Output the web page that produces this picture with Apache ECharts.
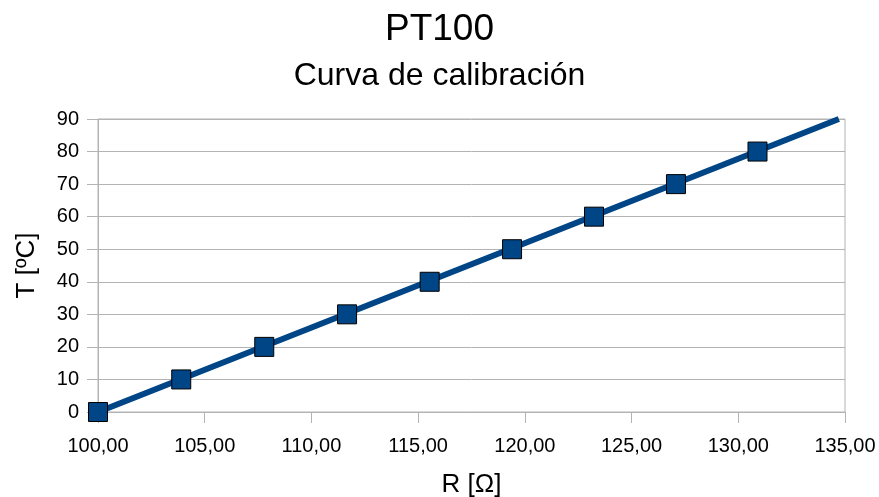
<!DOCTYPE html>
<html><head><meta charset="utf-8">
<script src="https://cdn.jsdelivr.net/npm/echarts@6/dist/echarts.min.js"></script>
<style>html,body{margin:0;padding:0;background:#fff}#c{width:879px;height:497px}</style>
</head><body><div id="c"></div>
<script>
const resistance = [100.00, 103.90, 107.79, 111.67, 115.54, 119.40, 123.24, 127.08, 130.90];
const temperature = [0, 10, 20, 30, 40, 50, 60, 70, 80];
const trendX = [100.00, 134.71];
const trendY = [0, 90];
const font = 'Liberation Sans, Arial, sans-serif';
const chart = echarts.init(document.getElementById('c'));
const fmt = v => v.toFixed(2).replace('.', ',');
chart.setOption({
  animation: false,
  title: {
    text: 'PT100', subtext: 'Curva de calibración', left: 'center', top: 6, itemGap: 12,
    textStyle: {fontFamily: font, fontSize: 37, fontWeight: 'normal', color: '#000'},
    subtextStyle: {fontFamily: font, fontSize: 32, color: '#000'}
  },
  grid: {left: 98, right: 34, top: 119, bottom: 85, show: true, borderColor: '#b3b3b3', borderWidth: 1,
         containLabel: false, outerBoundsMode: 'none'},
  xAxis: {
    type: 'value', min: 100, max: 135, interval: 5,
    name: 'R [Ω]', nameLocation: 'middle', nameGap: 60,
    nameTextStyle: {fontFamily: font, fontSize: 26, color: '#000'},
    axisLine: {show: true, lineStyle: {color: '#b3b3b3'}},
    axisTick: {show: true, length: 11, lineStyle: {color: '#b3b3b3'}},
    axisLabel: {formatter: fmt, fontFamily: font, fontSize: 20, color: '#000', margin: 24},
    splitLine: {show: false}
  },
  yAxis: {
    type: 'value', min: 0, max: 90, interval: 10,
    name: 'T [ºC]', nameLocation: 'middle', nameGap: 58,
    nameTextStyle: {fontFamily: font, fontSize: 26, color: '#000'},
    axisLine: {show: true, lineStyle: {color: '#b3b3b3'}},
    axisTick: {show: true, length: 11, lineStyle: {color: '#b3b3b3'}},
    axisLabel: {fontFamily: font, fontSize: 20, color: '#000', margin: 19},
    splitLine: {show: true, lineStyle: {color: '#b3b3b3'}}
  },
  series: [
    {type: 'line', data: trendX.map((x, i) => [x, trendY[i]]), showSymbol: false, symbol: 'none',
     lineStyle: {color: '#004586', width: 6}, z: 2},
    {type: 'scatter', data: resistance.map((x, i) => [x, temperature[i]]), symbol: 'rect', symbolSize: 19,
     itemStyle: {color: '#004586', borderColor: '#000', borderWidth: 1, opacity: 1}, z: 3}
  ]
});
</script></body></html>
